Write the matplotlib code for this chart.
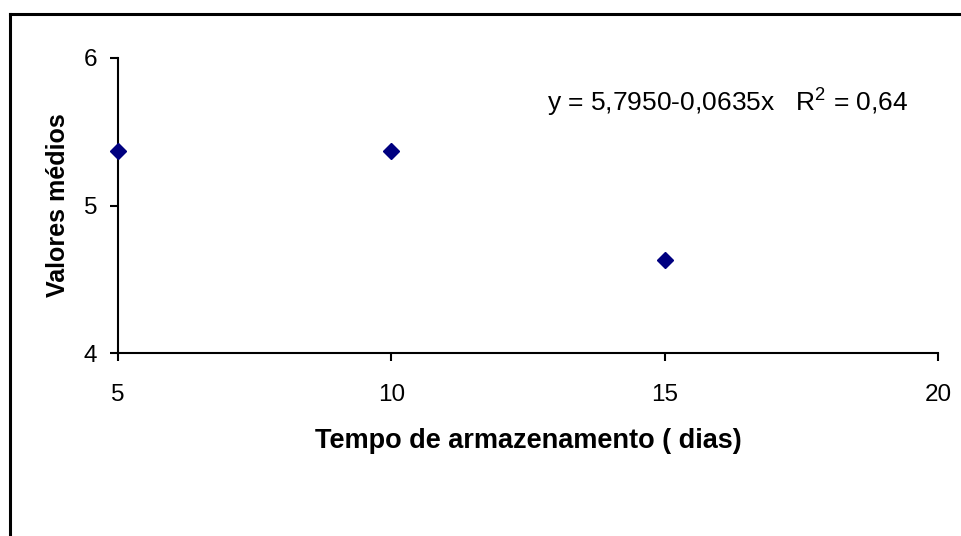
import matplotlib
matplotlib.use("Agg")
import matplotlib.pyplot as plt
from matplotlib.lines import Line2D

# dados
dias = [5, 10, 15]
valores = [5.37, 5.37, 4.63]
x_ticks = [5, 10, 15, 20]
y_ticks = [4, 5, 6]
equacao = r"y = 5,7950-0,0635x   R$^2$ = 0,64"

plt.rcParams["font.family"] = ["Liberation Sans", "DejaVu Sans"]
plt.rcParams["mathtext.fontset"] = "custom"
plt.rcParams["mathtext.rm"] = "Liberation Sans"
plt.rcParams["mathtext.it"] = "Liberation Sans"

fig = plt.figure(figsize=(9.62, 5.36), dpi=100, facecolor="white")
ax = fig.add_axes([118 / 962, 1 - 353 / 536, 820 / 962, 295 / 536])

ax.plot(dias, valores, linestyle="none", marker="D", markersize=8.5,
        color="#000080", clip_on=False, zorder=5)

ax.set_xlim(5, 20)
ax.set_ylim(4, 6)
ax.set_xticks(x_ticks)
ax.set_yticks(y_ticks)
ax.spines["top"].set_visible(False)
ax.spines["right"].set_visible(False)
for s in ("left", "bottom"):
    ax.spines[s].set_linewidth(1.5)
ax.tick_params(axis="both", direction="out", length=6, width=1.5,
               labelsize=17.5, colors="black")
ax.tick_params(axis="x", pad=16)
ax.tick_params(axis="y", pad=9)

ax.set_xlabel("Tempo de armazenamento ( dias)", fontsize=19.5,
              fontweight="bold", labelpad=16)
ax.set_ylabel("Valores médios", fontsize=18, fontweight="bold", labelpad=10)

ax.text(0.523, 0.847, equacao, transform=ax.transAxes, fontsize=19,
        ha="left", va="center")

# moldura (só topo e esquerda aparecem)
fig.add_artist(Line2D([10 / 962, 1], [1 - 14 / 536] * 2,
                      transform=fig.transFigure, color="black", linewidth=2.2))
fig.add_artist(Line2D([10 / 962] * 2, [0, 1 - 14 / 536],
                      transform=fig.transFigure, color="black", linewidth=2.2))

fig.savefig("out.png", dpi=100, facecolor="white")
plt.close(fig)
